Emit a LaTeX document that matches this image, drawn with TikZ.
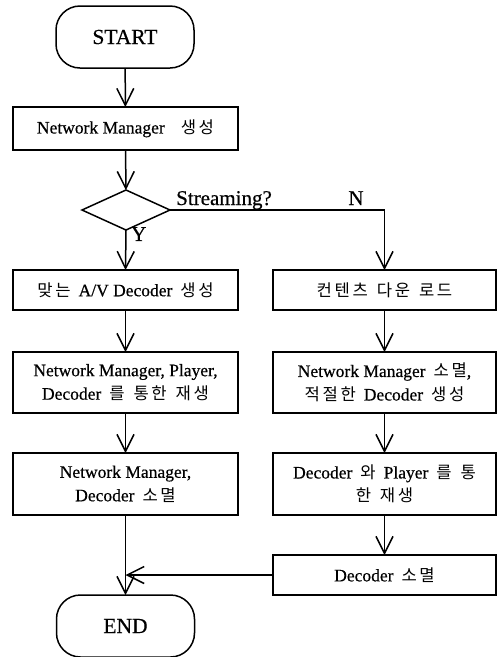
\documentclass[tikz,border=0pt]{standalone}
\usepackage{fontspec}
\setmainfont{Liberation Serif}[FakeBold=0.5]
\newfontfamily\kr{Noto Sans CJK KR}[Scale=0.95, LetterSpace=16, WordSpace=1.4]
\newcommand\ksp{\hspace{8pt}}% gap between Latin and Hangul words
\usetikzlibrary{shapes.geometric,arrows.meta}

\tikzset{
  base/.style={draw, line width=1.5pt, inner sep=2pt, outer sep=0pt, align=center,
               font=\fontsize{17.5}{23.5}\selectfont},
  procbox/.style={base, rectangle, minimum width=225pt},
  terminal/.style={base, rectangle, rounded corners=24pt, minimum width=138pt,
                   minimum height=62pt, font=\fontsize{21.5}{24}\selectfont},
  decision/.style={draw, line width=1.5pt, diamond, minimum width=88pt, minimum height=40pt,
                   inner sep=0pt, outer sep=0pt},
  flow/.style={line width=1.5pt, -{Straight Barb[length=17pt,width=17pt,line width=1.5pt]}},
  tag/.style={font=\fontsize{21}{24}\selectfont, inner sep=0pt}
}

\begin{document}
\begin{tikzpicture}[x=1pt,y=-1pt]
  \useasboundingbox (0,0) rectangle (497,657);

  % main column
  \node[terminal] (start) at (125,37) {START};
  \node[procbox, minimum height=43pt] (nm) at (125.5,128.5) {Network Manager\ksp\ksp{\kr 생성}};
  \node[decision] (dec) at (126,210) {};
  \node[procbox, minimum height=40pt] (a1) at (125.5,290) {{\kr 맞는}\ksp A/V Decoder\ksp{\kr 생성}};
  \node[procbox, minimum height=61pt] (a2) at (125.5,382.5)
    {Network Manager, Player,\\Decoder\ksp{\kr 를 통한 재생}};
  \node[procbox, minimum height=62pt] (a3) at (125.5,484)
    {Network Manager,\\Decoder\ksp{\kr 소멸}};
  \node[terminal] (end) at (125.5,626) {END};

  % download branch
  \node[procbox, minimum width=223pt, minimum height=40pt] (b1) at (384.5,290) {\kr 컨텐츠 다운 로드};
  \node[procbox, minimum width=223pt, minimum height=61pt] (b2) at (384.5,382.5)
    {Network Manager\ksp{\kr 소멸},\\{\kr 적절한}\ksp Decoder\ksp{\kr 생성}};
  \node[procbox, minimum width=223pt, minimum height=62pt] (b3) at (384.5,484)
    {Decoder\ksp{\kr 와}\ksp Player\ksp{\kr 를 통}\\{\kr 한 재생}};
  \node[procbox, minimum width=223pt, minimum height=40pt] (b4) at (384.5,575) {Decoder\ksp{\kr 소멸}};

  % connectors
  \draw[flow] (start) -- (nm);
  \draw[flow] (nm) -- (dec);
  \draw[flow] (dec.south) -- (a1.north);
  \draw[flow] (a1) -- (a2);
  \draw[flow] (a2) -- (a3);
  \draw[flow] (a3) -- (end);
  \draw[flow] (dec.east) -| (b1.north);
  \draw[flow] (b1) -- (b2);
  \draw[flow] (b2) -- (b3);
  \draw[flow] (b3) -- (b4);
  \draw[flow] (b4.west) -- (b4.west -| a3.south);

  % decision labels
  \node[tag, anchor=base west] (qlabel) at (176,205) {Streaming?};
  \node[tag, anchor=base] (nlabel) at (356,205) {N};
  \node[tag, anchor=north west] (ylabel) at (131,227) {Y};
\end{tikzpicture}
\end{document}
